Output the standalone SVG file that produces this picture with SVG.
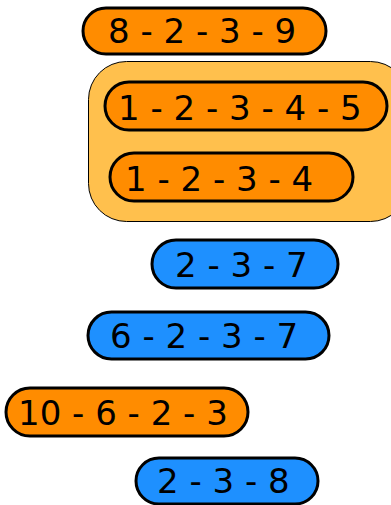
<svg xmlns="http://www.w3.org/2000/svg" width="391" height="505" viewBox="0 0 391 505">
  <style>
    .pill { stroke: #000; stroke-width: 3; }
    .orange { fill: #FF8C00; }
    .blue { fill: #1E90FF; }
    .cluster { fill: #FFC04D; stroke: #000; stroke-width: 1; }
    .lbl { font-family: "DejaVu Sans", sans-serif; font-size: 34px; fill: #000; }
  </style>
  <rect width="391" height="505" fill="#fff"/>
  <g id="connectors"/>
  <g id="n_8_2_3_9">
    <rect class="pill orange" x="83" y="8" width="243" height="46" rx="23"/>
    <text class="lbl" x="108" y="43">8 - 2 - 3 - 9</text>
  </g>
  <g id="cluster_1_2_3">
    <rect class="cluster" x="88.5" y="61.5" width="320" height="160" rx="38"/>
    <g id="n_1_2_3_4_5">
      <rect class="pill orange" x="105" y="82" width="282" height="48" rx="24"/>
      <text class="lbl" x="118" y="120">1 - 2 - 3 - 4 - 5</text>
    </g>
    <g id="n_1_2_3_4">
      <rect class="pill orange" x="110" y="153" width="243" height="48" rx="24"/>
      <text class="lbl" x="125" y="191">1 - 2 - 3 - 4</text>
    </g>
  </g>
  <g id="n_2_3_7">
    <rect class="pill blue" x="152" y="240" width="186" height="48" rx="24"/>
    <text class="lbl" x="175" y="277">2 - 3 - 7</text>
  </g>
  <g id="n_6_2_3_7">
    <rect class="pill blue" x="88" y="312" width="241" height="47" rx="23.5"/>
    <text class="lbl" x="110" y="348">6 - 2 - 3 - 7</text>
  </g>
  <g id="n_10_6_2_3">
    <rect class="pill orange" x="6" y="388" width="242" height="48" rx="24"/>
    <text class="lbl" x="18" y="425">10 - 6 - 2 - 3</text>
  </g>
  <g id="n_2_3_8">
    <rect class="pill blue" x="136" y="458" width="182" height="46" rx="23"/>
    <text class="lbl" x="157" y="493">2 - 3 - 8</text>
  </g>
</svg>
